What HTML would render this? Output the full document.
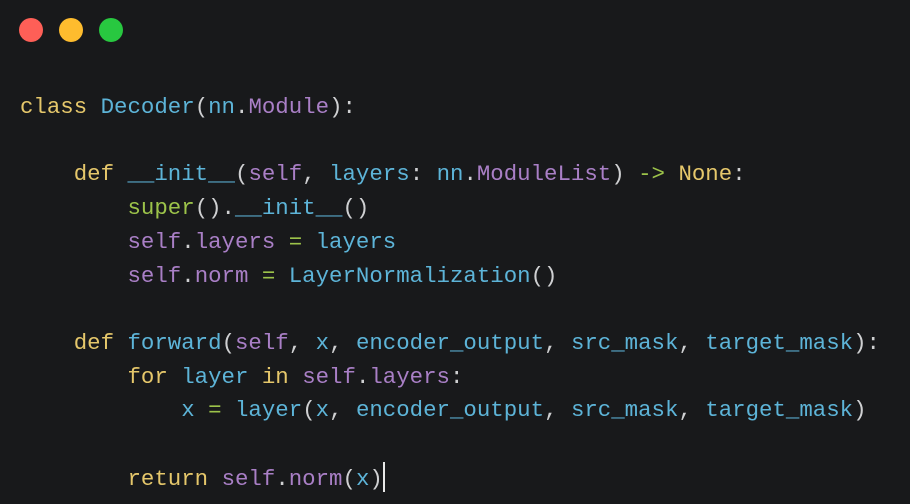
<!DOCTYPE html>
<html><head><meta charset="utf-8"><style>
html,body{margin:0;padding:0;}
body{width:910px;height:504px;background:#18191b;position:relative;overflow:hidden;}
.d{position:absolute;top:18px;width:24px;height:24px;border-radius:50%;}
pre{position:absolute;left:20px;top:91px;margin:0;font-family:"Liberation Mono",monospace;font-size:22.4px;line-height:33.7px;color:#cfd0d2;}
.k{color:#e5c76b}.b{color:#5db4d8}.p{color:#a97fc6}.g{color:#9cc34a}
.cur{display:inline-block;width:2px;height:30px;background:#e8e8e8;vertical-align:-7px;}
</style></head><body>
<div class="d" style="left:19px;background:#fe5f57"></div>
<div class="d" style="left:59px;background:#febc2e"></div>
<div class="d" style="left:99px;background:#28c840"></div>
<pre><span class="k">class</span> <span class="b">Decoder</span>(<span class="b">nn</span>.<span class="p">Module</span>):

    <span class="k">def</span> <span class="b">__init__</span>(<span class="p">self</span>, <span class="b">layers</span>: <span class="b">nn</span>.<span class="p">ModuleList</span>) <span class="g">-&gt;</span> <span class="k">None</span>:
        <span class="g">super</span>().<span class="b">__init__</span>()
        <span class="p">self</span>.<span class="p">layers</span> <span class="g">=</span> <span class="b">layers</span>
        <span class="p">self</span>.<span class="p">norm</span> <span class="g">=</span> <span class="b">LayerNormalization</span>()

    <span class="k">def</span> <span class="b">forward</span>(<span class="p">self</span>, <span class="b">x</span>, <span class="b">encoder_output</span>, <span class="b">src_mask</span>, <span class="b">target_mask</span>):
        <span class="k">for</span> <span class="b">layer</span> <span class="k">in</span> <span class="p">self</span>.<span class="p">layers</span>:
            <span class="b">x</span> <span class="g">=</span> <span class="b">layer</span>(<span class="b">x</span>, <span class="b">encoder_output</span>, <span class="b">src_mask</span>, <span class="b">target_mask</span>)

        <span class="k">return</span> <span class="p">self</span>.<span class="p">norm</span>(<span class="b">x</span>)<span class="cur"></span></pre>
</body></html>
